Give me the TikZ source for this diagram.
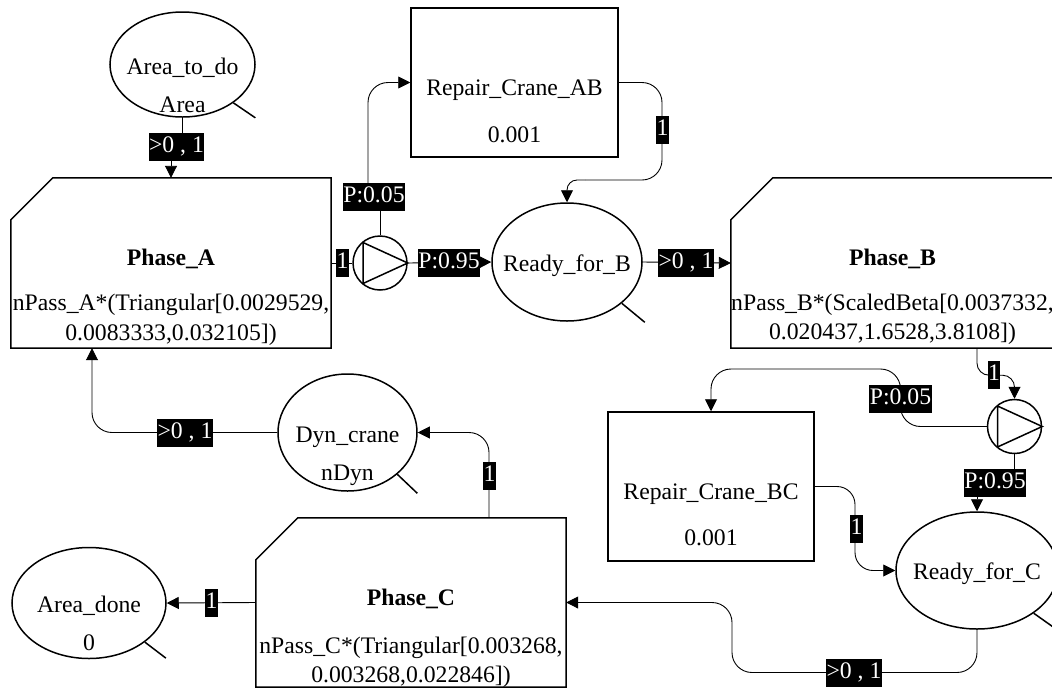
\documentclass[tikz,border=0pt]{standalone}
\usepackage{fontspec}
\setmainfont{Liberation Serif}
\usetikzlibrary{shapes.geometric,arrows.meta}
\tikzset{
  place/.style={ellipse,draw,line width=1.5pt,inner sep=0pt},
  boxnode/.style={rectangle,draw,line width=1.5pt,inner sep=0pt},
  phasenode/.style={rectangle,inner sep=0pt},
  pump/.style={circle,draw,line width=1.5pt,inner sep=0pt,minimum size=54pt},
  shapeline/.style={line width=1.5pt},
  plainline/.style={line width=0.9pt},
  conn/.style={line width=0.9pt,-{Triangle[length=12pt,width=12pt]}},
  lab/.style={fill=black,text=white,inner xsep=0.5pt,inner ysep=3.5pt,text height=16pt,text depth=5pt},
  txt/.style={anchor=base,inner sep=0pt},
}
\newcommand\phaseoutline[1]{\draw[shapeline] ([xshift=42pt]#1.north west) -- (#1.north east) -- (#1.south east) -- (#1.south west) -- ([yshift=-42pt]#1.north west) -- cycle;}
\newcommand\pumptri[1]{\draw[shapeline] ([shift={(-17pt,20.5pt)}]#1.center) -- ([shift={(-17pt,-20.5pt)}]#1.center) -- (#1.east) -- cycle;}
\begin{document}
\begin{tikzpicture}[x=1pt,y=-1pt,font=\fontsize{23.7pt}{28pt}\selectfont]
\useasboundingbox (0,0) rectangle (1052,689);
\fill[white] (0,0) rectangle (1052,689);

% places
\node[place,minimum width=145pt,minimum height=105pt] (AT) at (182.5,64.5) {};
\node[txt] (ATn) at (182.5,74.5) {Area\_to\_do};
\node[txt] (ATv) at (182.5,112.5) {Area};
\draw[shapeline] (AT.-37) -- ++(22,15);

\node[place,minimum width=150pt,minimum height=118pt] (RB) at (567,262) {};
\node[txt] (RBn) at (567,271) {Ready\_for\_B};
\draw[shapeline] (RB.-37) -- ++(23,19);

\node[place,minimum width=139pt,minimum height=117pt] (DC) at (347.5,432.5) {};
\node[txt] (DCn) at (347.5,442.5) {Dyn\_crane};
\node[txt] (DCv) at (347.5,480.5) {nDyn};
\draw[shapeline] (DC.-40) -- ++(20,19);

\node[place,minimum width=154pt,minimum height=111pt] (AD) at (89,603) {};
\node[txt] (ADn) at (89,612.5) {Area\_done};
\node[txt] (ADv) at (89,650.5) {0};
\draw[shapeline] (AD.-35) -- ++(21,16);

\node[place,minimum width=162pt,minimum height=117pt] (RC) at (977,570.5) {};
\node[txt] (RCn) at (977,579) {Ready\_for\_C};
\draw[shapeline] (RC.-37) -- ++(24,17);

% transitions (phases)
\node[phasenode,minimum width=320pt,minimum height=170pt] (PA) at (171,263) {};
\phaseoutline{PA}
\node[txt] (PAn) at (171,265.5) {\bfseries Phase\_A};
\node[txt] (PA1) at (171,310.5) {nPass\_A*(Triangular[0.0029529,};
\node[txt] (PA2) at (171,340.5) {0.0083333,0.032105])};

\node[phasenode,minimum width=323pt,minimum height=170pt] (PB) at (892.5,263) {};
\phaseoutline{PB}
\node[txt] (PBn) at (892.5,265.5) {\bfseries Phase\_B};
\node[txt] (PB1) at (892.5,310.5) {nPass\_B*(ScaledBeta[0.0037332,};
\node[txt] (PB2) at (892.5,339.5) {0.020437,1.6528,3.8108])};

\node[phasenode,minimum width=310pt,minimum height=169pt] (PC) at (411,602.5) {};
\phaseoutline{PC}
\node[txt] (PCn) at (411,605.5) {\bfseries Phase\_C};
\node[txt] (PC1) at (411,653.5) {nPass\_C*(Triangular[0.003268,};
\node[txt] (PC2) at (411,682) {0.003268,0.022846])};

% repair boxes
\node[boxnode,minimum width=207pt,minimum height=149pt] (RAB) at (514.5,82.5) {};
\node[txt] (RABn) at (514.5,95.5) {Repair\_Crane\_AB};
\node[txt] (RABv) at (514.5,142.5) {0.001};

\node[boxnode,minimum width=206pt,minimum height=149pt] (RBC) at (711,486.5) {};
\node[txt] (RBCn) at (711,499.5) {Repair\_Crane\_BC};
\node[txt] (RBCv) at (711,545.5) {0.001};

% pumps
\node[pump] (pA) at (380,263) {};
\pumptri{pA}
\node[pump] (pB) at (1014.5,426.5) {};
\pumptri{pB}

% label positions
\coordinate (q1) at (176.5,146.5);
\coordinate (q2) at (342.5,263);
\coordinate (q3) at (374,196.5);
\coordinate (q4) at (449,263);
\coordinate (q5) at (662.5,130);
\coordinate (q6) at (686,263);
\coordinate (q7) at (994,375);
\coordinate (q8) at (900.5,398.5);
\coordinate (q9) at (995,483);
\coordinate (q10) at (856.5,529);
\coordinate (q11) at (854,672.5);
\coordinate (q12) at (489.5,476);
\coordinate (q13) at (185,432.5);
\coordinate (q14) at (211.5,603);

% connectors
\draw[conn] (AT.south) -- (AT.south |- q1) -- (PA.north |- q1) -- (PA.north);
\draw[plainline] (PA.east) -- (pA.west);
\draw[plainline] (pA.north) -- (pA.north |- q3) -- (368,196.5);
\draw[conn,rounded corners=20pt] (368,196.5) |- (RAB.west);
\draw[conn] (pA.east) -- (RB.west);
\draw[plainline,rounded corners=20pt] (RAB.east) -- (662,82.5) -- (662,180) -- (585,180);
\draw[conn,rounded corners=10pt] (585,180) -| (RB.north);
\draw[conn] (RB.east) -- (PB.west);
\draw[conn,rounded corners=12pt] ([xshift=84.5pt]PB.south) -- ++(0,27) -| (pB.north);
\draw[conn,rounded corners=20pt] (pB.west) -| (900.5,369) -| (RBC.north);
\draw[conn] (pB.south) -- (pB.south |- q9) -- (RC.north |- q9) -- (RC.north);
\draw[conn,rounded corners=18pt] (RBC.east) -- (855,486.5) |- (RC.west);
\draw[conn,rounded corners=20pt] (RC.south) |- (732,672.5) |- (PC.east);
\draw[conn,rounded corners=20pt] ([xshift=78pt]PC.north) |- (DC.east);
\draw[conn,rounded corners=20pt] (DC.west) -| ([xshift=-79pt]PA.south);
\draw[conn] (PC.west) -- (AD.east);

% labels
\node[lab] (L1) at (q1) {>0 , 1};
\node[lab] (L2) at (q2) {1};
\node[lab] (L3) at (q3) {P:0.05};
\node[lab] (L4) at (q4) {P:0.95};
\node[lab] (L5) at (q5) {1};
\node[lab] (L6) at (q6) {>0 , 1};
\node[lab] (L7) at (q7) {1};
\node[lab] (L8) at (q8) {P:0.05};
\node[lab] (L9) at (q9) {P:0.95};
\node[lab] (L10) at (q10) {1};
\node[lab] (L11) at (q11) {>0 , 1};
\node[lab] (L12) at (q12) {1};
\node[lab] (L13) at (q13) {>0 , 1};
\node[lab] (L14) at (q14) {1};
\end{tikzpicture}
\end{document}
